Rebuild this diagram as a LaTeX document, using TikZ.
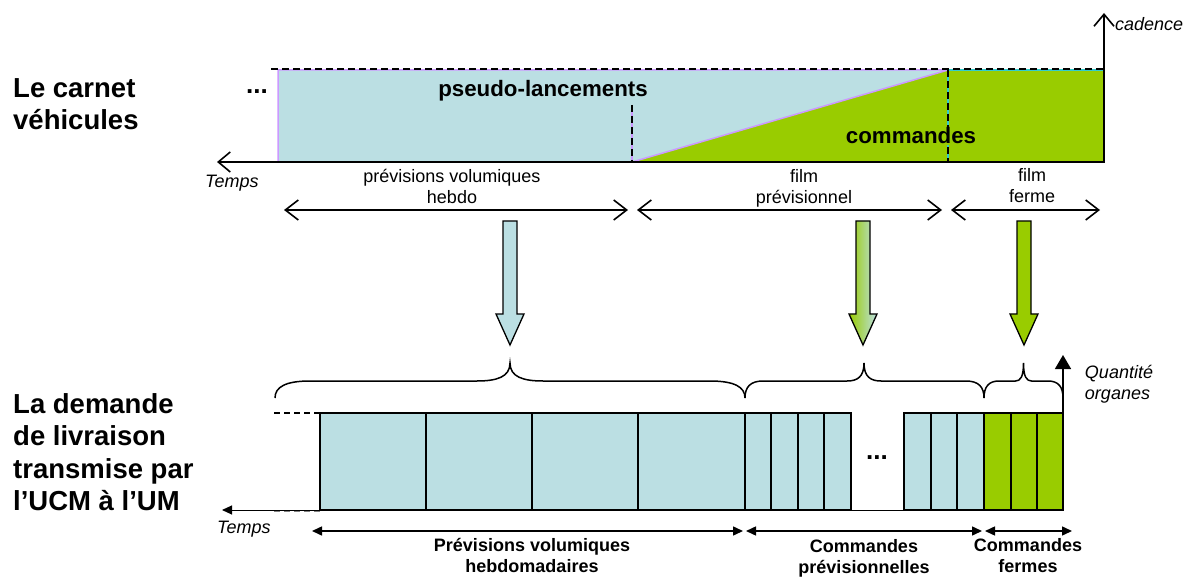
\documentclass[tikz,border=0pt]{standalone}
\usepackage{fontspec}
\setmainfont{Liberation Sans}
\usetikzlibrary{arrows.meta}
\definecolor{lblue}{HTML}{BBDFE3}
\definecolor{lgreen}{HTML}{99CC00}
\definecolor{lpurple}{HTML}{CC99FF}
\definecolor{lteal}{HTML}{33CCCC}
\newcommand\mybrace[5]{%
  \draw[bracestyle] (#1,398) .. controls (#1,387) and (#1+0.3*#4,381) .. (#1+#4,381)
    -- (#3-#5,381) .. controls (#3-0.4*#5,381) and (#3,377) .. (#3,363)
    .. controls (#3,377) and (#3+0.4*#5,381) .. (#3+#5,381)
    -- (#2-#4,381) .. controls (#2-0.3*#4,381) and (#2,387) .. (#2,398);}
\begin{document}
\begin{tikzpicture}[x=1pt,y=-1pt,
  title/.style={font=\fontsize{27.5}{32.5}\selectfont\bfseries, align=left, inner sep=0, anchor=west},
  lbl/.style={font=\fontsize{18}{21}\selectfont, align=center, inner sep=0},
  blbl/.style={font=\fontsize{18}{21}\selectfont\bfseries, align=center, inner sep=0},
  ital/.style={font=\fontsize{18}{21}\selectfont\itshape, align=left, inner sep=0},
  bigb/.style={font=\fontsize{22.3}{26}\selectfont\bfseries, inner sep=0},
  dashline/.style={black, line width=2, dash pattern=on 7pt off 4pt},
  openaxis/.style={line width=2, {Straight Barb[length=12pt,width=20pt,line width=1.6pt]}-{Straight Barb[length=12pt,width=20pt,line width=1.6pt]}},
  opendbl/.style={line width=1.6, {Straight Barb[length=13pt,width=20pt]}-{Straight Barb[length=13pt,width=20pt]}},
  filldbl/.style={line width=1.5, {Triangle[length=10pt,width=9pt]}-{Triangle[length=10pt,width=9pt]}},
  bracestyle/.style={line width=1.5, black},
  blockarrow/.style={draw=black, line width=1.3},
  bar/.style={draw=black, line width=1.5}
]
\useasboundingbox (0,0) rectangle (1186,577);

% ---------- titles
\node[title] (t1) at (13,104) {Le carnet\\véhicules};
\node[title] (t2) at (13,452) {La demande\\de livraison\\transmise par\\l’UCM à l’UM};

% ---------- top chart
\fill[lblue] (278,70) -- (948,70) -- (632,162) -- (278,162) -- cycle;
\fill[lgreen] (632,162) -- (948,70) -- (1104,70) -- (1104,162) -- cycle;
\draw[lpurple, line width=1.5] (278,162) -- (278,70) -- (948,70) -- (632,162);
\draw[lpurple, line width=1.5] (632,105) -- (632,162);
\draw[lteal, line width=1.2] (948,162) -- (948,70) -- (1104,70);
\draw[dashline] (271,69) -- (1104,69);
\draw[dashline] (632,105) -- (632,162);
\draw[dashline] (948,70) -- (948,162);

\coordinate (tT) at (217,162);
\coordinate (tO) at (1104,162);
\coordinate (tC) at (1104,13);
\draw[openaxis] (tT) -- (tO) -- (tC);

\node[bigb, anchor=base] (pl) at (543,97) {pseudo-lancements};
\node[bigb, anchor=base, fill=lgreen, inner sep=1pt] (cm) at (911,144) {commandes};
\node[font=\fontsize{26}{30}\selectfont\bfseries, inner sep=0, anchor=base] (dt) at (257,94) {...};
\node[ital, anchor=base west] (tp1) at (205,188) {Temps};
\node[ital, anchor=base west] (cad) at (1115,31) {cadence};

\node[lbl] (l1) at (452,186) {prévisions volumiques\\hebdo};
\node[lbl] (l2) at (804,188) {film\\prévisionnel};
\node[lbl] (l3) at (1032,186) {film\\ferme};

\coordinate (a1) at (284,210); \coordinate (a2) at (628,210);
\coordinate (a3) at (637,210); \coordinate (a4) at (942,210);
\coordinate (a5) at (951,210); \coordinate (a6) at (1100,210);
\draw[opendbl] (a1) -- (a2);
\draw[opendbl] (a3) -- (a4);
\draw[opendbl] (a5) -- (a6);

% ---------- block arrows
\draw[blockarrow, fill=lblue] (503,221) -- (517,221) -- (517,314) -- (524,314) -- (510,345) -- (496,314) -- (503,314) -- cycle;
\draw[blockarrow, left color=lgreen, right color=lblue] (856,221) -- (870,221) -- (870,314) -- (877,314) -- (863,345) -- (849,314) -- (856,314) -- cycle;
\draw[blockarrow, fill=lgreen] (1017,221) -- (1031,221) -- (1031,314) -- (1038,314) -- (1024,345) -- (1010,314) -- (1017,314) -- cycle;

% ---------- braces
\mybrace{275}{745}{510}{35}{33}
\mybrace{745}{984}{864}{18}{17}
\mybrace{984}{1063}{1023.5}{15}{8}

% ---------- bottom chart
\coordinate (bO) at (1063,510);
\coordinate (bT) at (222,510);
\coordinate (bQ) at (1063,355);
\draw[line width=1, -{Triangle[length=10pt,width=9pt]}] (bO) -- (bT);
\draw[line width=1.5, -{Triangle[length=14pt,width=16pt]}] (bO) -- (bQ);
\draw[black, line width=1.5, dash pattern=on 6pt off 4pt] (274,413) -- (320,413);
\draw[gray, line width=1.2, dash pattern=on 6pt off 4pt] (274,511.5) -- (320,511.5);

\foreach \a/\b in {320/426,426/532,532/638,638/745,745/771,771/798,798/824,824/851,904/931,931/957,957/984}
  \draw[bar, fill=lblue] (\a,413) rectangle (\b,510);
\foreach \a/\b in {984/1011,1011/1037,1037/1063}
  \draw[bar, fill=lgreen] (\a,413) rectangle (\b,510);

\node[font=\fontsize{26}{30}\selectfont\bfseries, inner sep=0, anchor=base] (dt2) at (877,459) {...};
\node[ital, anchor=base west] (tp2) at (217,533) {Temps};
\node[ital] (qo) at (1119,384) {Quantité\\organes};

\coordinate (b1) at (312,531); \coordinate (b2) at (743,531);
\coordinate (b3) at (746,531); \coordinate (b4) at (982,531);
\coordinate (b5) at (985,531); \coordinate (b6) at (1072,531);
\draw[filldbl] (b1) -- (b2);
\draw[filldbl] (b3) -- (b4);
\draw[filldbl] (b5) -- (b6);

\node[blbl] (p1) at (532,555.5) {Prévisions volumiques\\hebdomadaires};
\node[blbl] (p2) at (864,558) {Commandes\\prévisionnelles};
\node[blbl] (p3) at (1028,556) {Commandes\\fermes};
\end{tikzpicture}
\end{document}
